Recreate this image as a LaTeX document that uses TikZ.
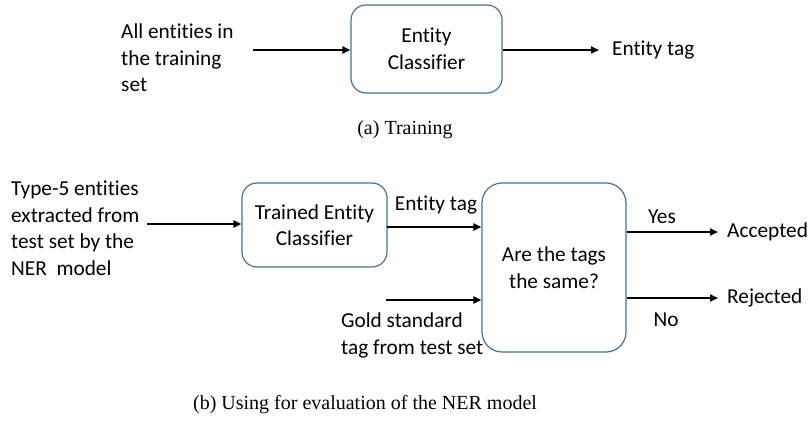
\documentclass[tikz,border=0pt]{standalone}
\usepackage{fontspec}
\setmainfont[Ligatures=NoCommon]{Carlito}
\newfontfamily\capfont{Liberation Serif}
\usetikzlibrary{arrows.meta}
\definecolor{boxblue}{HTML}{41719C}
\tikzset{
  lbl/.style={font=\fontsize{21.3}{26.5}\selectfont, inner sep=0pt},
  captxt/.style={font=\capfont\fontsize{20}{24}\selectfont, inner sep=0pt},
  rbox/.style={draw=boxblue, line width=1.2pt, rounded corners=15pt, align=center, inner sep=0pt, font=\fontsize{21.3}{26.5}\selectfont},
  arr/.style={line width=2pt, -{Triangle[length=8pt,width=7pt]}}
}
\begin{document}
\begin{tikzpicture}[x=1pt,y=-1pt]
\useasboundingbox (0,0) rectangle (810,425);
% (a) Training
\node[lbl, anchor=west, align=left] (ain) at (121,58) {All entities in\\the training\\set};
\coordinate (as) at (253,50);
\node[rbox, minimum width=151pt, minimum height=88pt] (ec) at (426.5,49) {Entity\\Classifier};
\coordinate (ae) at (599,50);
\node[lbl, anchor=west] (atag) at (612,50) {Entity tag};
\draw[arr] (as) -- (as -| ec.west);
\draw[arr] (ec.east |- ae) -- (ae);
\node[captxt] (capa) at (405,130) {(a) Training};
% (b) Evaluation
\node[lbl, anchor=west, align=left] (bin) at (11,228) {Type-5 entities\\extracted from\\test set by the\\NER~~model};
\coordinate (bs) at (147,224);
\node[rbox, minimum width=145pt, minimum height=84pt] (tec) at (314.5,225) {Trained Entity\\Classifier};
\node[rbox, rounded corners=20pt, minimum width=144pt, minimum height=169pt] (cmp) at (554,267.5) {Are the tags\\the same?};
\draw[arr] (bs) -- (bs -| tec.west);
\coordinate (tt) at (387,227);
\draw[arr] (tt) -- (tt -| cmp.west);
\node[lbl] (btag) at (436,205) {Entity tag};
\coordinate (gs) at (386,300);
\draw[arr] (gs) -- (gs -| cmp.west);
\node[lbl, anchor=west, align=left] (gold) at (341,335.5) {Gold standard\\tag from test set};
\coordinate (ya) at (718,232);
\coordinate (nr) at (718,298);
\draw[arr] (ya -| cmp.east) -- (ya);
\draw[arr] (nr -| cmp.east) -- (nr);
\node[lbl] (yes) at (662,217) {Yes};
\node[lbl] (no) at (666,320) {No};
\node[lbl, anchor=west] (acc) at (727,232) {Accepted};
\node[lbl, anchor=west] (rej) at (727,298) {Rejected};
\node[captxt] (capb) at (365,405) {(b) Using for evaluation of the NER model};
\end{tikzpicture}
\end{document}
